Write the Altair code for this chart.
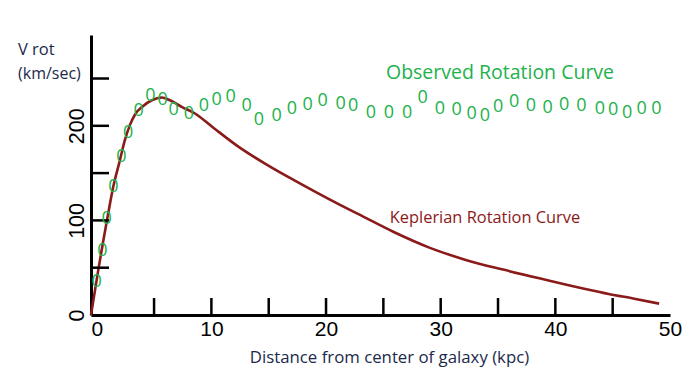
import altair as alt
import pandas as pd

# Observed rotation curve (distance kpc, velocity km/s)
obs_d = [0.0, 0.49, 0.87, 1.46, 2.14, 2.73, 3.66, 4.69, 5.75, 6.7, 8.03, 9.35, 10.46,
         11.68, 13.08, 14.15, 15.69, 17.03, 18.4, 19.7, 21.27, 22.37, 23.91, 25.48,
         27.08, 28.42, 29.93, 31.39, 32.69, 33.85, 35.01, 36.41, 37.86, 39.32, 40.77,
         42.28, 43.88, 45.04, 46.26, 47.52, 48.82]
obs_v = [35, 68, 101, 135, 167, 192, 216, 232, 227, 217, 213, 221, 227,
         230, 221, 206, 210, 218, 222, 226, 223, 221, 214, 214,
         214, 229, 218, 217, 212, 210, 220, 225, 221, 219, 222,
         221, 218, 217, 214, 218, 218]

# Keplerian rotation curve
kep_d = [-0.5, 0.14, 0.58, 1.01, 1.45, 2.03, 2.41, 2.90, 3.34, 4.06, 4.80, 5.67, 6.39,
         7.41, 8.57, 10.17, 12.35, 14.82, 17.44, 20.34, 23.24, 25.86, 29.06, 32.26,
         35.45, 39.23, 42.42, 44.75, 46.78, 49.05]
kep_v = [0, 48, 79, 108, 136, 164, 183, 201, 212, 221, 227, 230, 227,
         220, 213, 198, 178, 159, 141, 122, 104, 88, 71, 58,
         48, 37, 28, 22, 17.5, 12]

x_tick_vals = [5, 10, 15, 20, 25, 30, 35, 40, 45]
y_tick_vals = [50, 100, 150, 200, 250]
x_label_vals = [0, 10, 20, 30, 40, 50]
y_label_vals = [0, 100, 200]

X_DOMAIN = [-0.5, 50.0]
Y_DOMAIN = [0, 296]

obs_df = pd.DataFrame({"d": obs_d, "v": obs_v})
kep_df = pd.DataFrame({"d": kep_d, "v": kep_v})
xt_df = pd.DataFrame({"d": x_tick_vals})
yt_df = pd.DataFrame({"v": y_tick_vals})

xs = alt.Scale(domain=X_DOMAIN, nice=False, zero=False)
ys = alt.Scale(domain=Y_DOMAIN, nice=False, zero=False)

NAVY = "#1b2a4a"
GREEN = "#22b14c"
RED = "#8b1a1a"

x_axis = alt.Axis(
    values=x_label_vals, ticks=False, grid=False,
    domainColor="black", domainWidth=3,
    labelFont="Liberation Sans", labelFontSize=21, labelColor="black",
    labelPadding=3, labelFlush=False,
    title="Distance from center of galaxy (kpc)",
    titleFont="Open Sans", titleFontSize=16.8, titleFontWeight="normal",
    titleColor=NAVY, titleX=298, titleY=42, titleAlign="center",
    titleBaseline="middle")
y_axis = alt.Axis(
    values=y_label_vals, ticks=False, grid=False,
    domainColor="black", domainWidth=3,
    labelFont="Liberation Sans", labelFontSize=21.5, labelColor="black",
    labelAngle=270, labelAlign="center", labelBaseline="bottom",
    labelPadding=3, labelFlush=False, title=None)

kep = alt.Chart(kep_df).mark_line(color=RED, strokeWidth=2.6, interpolate="monotone").encode(
    x=alt.X("d:Q", scale=xs, axis=x_axis),
    y=alt.Y("v:Q", scale=ys, axis=y_axis),
)

xticks = alt.Chart(xt_df).mark_rule(color="black", strokeWidth=2.5).encode(
    x=alt.X("d:Q", scale=xs, axis=x_axis),
    y=alt.value(280), y2=alt.value(263),
)

yticks = alt.Chart(yt_df).mark_rule(color="black", strokeWidth=2.5).encode(
    y=alt.Y("v:Q", scale=ys, axis=y_axis),
    x=alt.value(0), x2=alt.value(18),
)

obs = alt.Chart(obs_df).mark_text(
    text="0", font="Open Sans", fontSize=18, color=GREEN,
    align="center", baseline="middle").encode(
    x=alt.X("d:Q", scale=xs, axis=x_axis),
    y=alt.Y("v:Q", scale=ys, axis=y_axis),
)

def label(txt, x, y, size, color, align="left"):
    return alt.Chart(pd.DataFrame({"t": [txt]})).mark_text(
        font="Open Sans", fontSize=size, color=color, align=align,
        baseline="middle").encode(
        text="t:N", x=alt.value(x), y=alt.value(y))

texts = [
    label("V rot", -73, 15, 16.5, NAVY),
    label("(km/sec)", -73, 39, 16, NAVY),
    label("Observed Rotation Curve", 409, 38, 19.5, GREEN, "center"),
    label("Keplerian Rotation Curve", 394, 183, 16.4, RED, "center"),
]

chart = alt.layer(kep, xticks, yticks, obs, *texts).properties(
    width=579, height=280, autosize="none",
    padding={"left": 83, "top": 27, "right": 13, "bottom": 58},
    background="white",
).configure_view(stroke=None)

chart.save("out.html", embed_options={"renderer": "svg", "actions": False})
